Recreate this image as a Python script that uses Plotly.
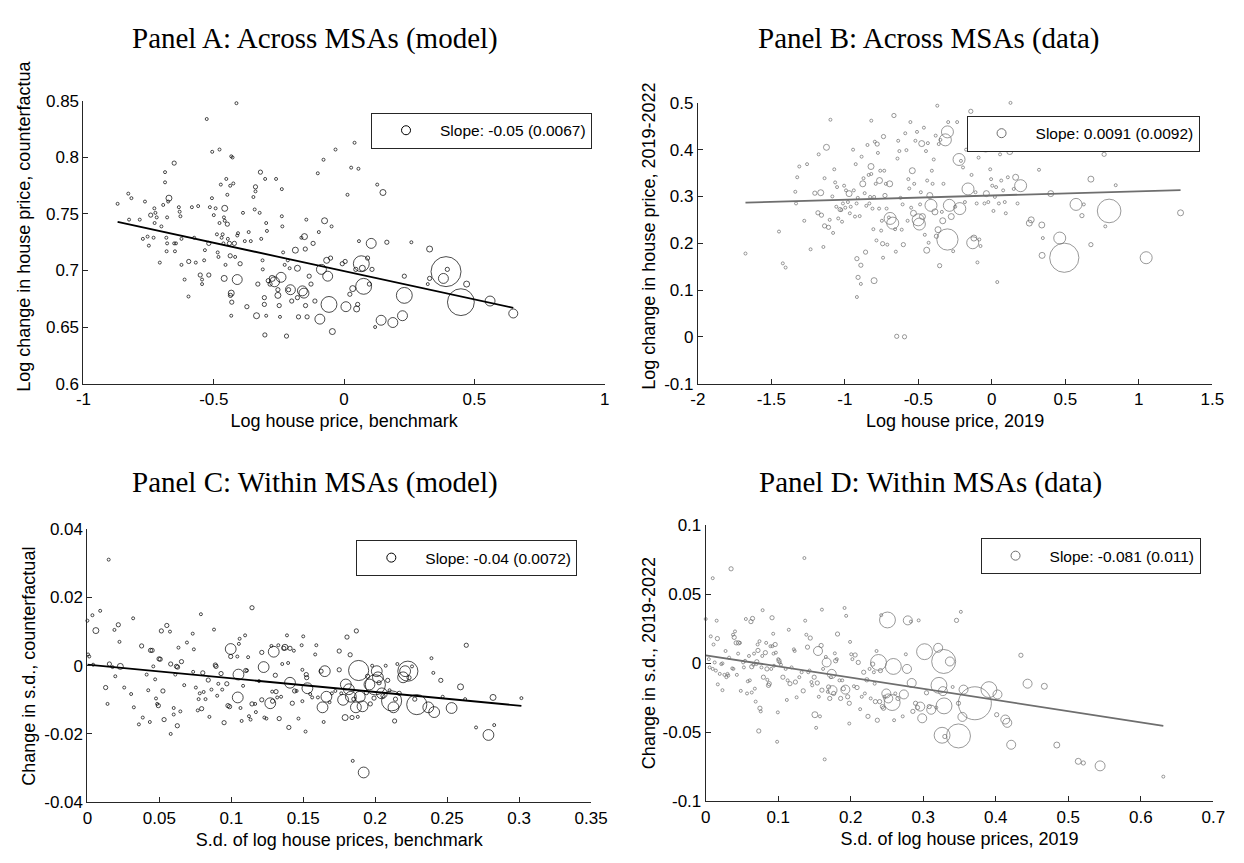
import numpy as np
import plotly.graph_objects as go

# ---------------- Panel A: across MSAs (model) ----------------
a_x = [-0.869, -0.828, -0.816, -0.825, -0.784, -0.764, -0.742, -0.728, -0.724, -0.719,
       -0.772, -0.754, -0.749, -0.731, -0.727, -0.701, -0.687, -0.687, -0.672, -0.675,
       -0.679, -0.694, -0.652, -0.707, -0.681, -0.682, -0.679, -0.652, -0.645, -0.649,
       -0.634, -0.631, -0.628, -0.624, -0.624, -0.612, -0.597, -0.596, -0.584, -0.575,
       -0.569, -0.560, -0.552, -0.545, -0.545, -0.537, -0.534, -0.527, -0.519, -0.519,
       -0.515, -0.507, -0.506, -0.500, -0.493, -0.488, -0.485, -0.482, -0.478, -0.478,
       -0.473, -0.470, -0.466, -0.463, -0.458, -0.461, -0.458, -0.455, -0.460, -0.452,
       -0.448, -0.448, -0.446, -0.440, -0.437, -0.433, -0.428, -0.425, -0.421, -0.418,
       -0.437, -0.433, -0.436, -0.431, -0.433, -0.413, -0.410, -0.407, -0.399, -0.388,
       -0.381, -0.410, -0.373, -0.366, -0.358, -0.348, -0.343, -0.340, -0.340, -0.336,
       -0.331, -0.324, -0.321, -0.318, -0.313, -0.312, -0.306, -0.306, -0.299, -0.304,
       -0.303, -0.299, -0.296, -0.291, -0.284, -0.276, -0.267, -0.261, -0.254, -0.254,
       -0.249, -0.246, -0.242, -0.239, -0.239, -0.237, -0.234, -0.228, -0.221, -0.216,
       -0.213, -0.209, -0.206, -0.201, -0.187, -0.179, -0.179, -0.175, -0.164, -0.160,
       -0.154, -0.152, -0.149, -0.148, -0.145, -0.142, -0.134, -0.127, -0.119, -0.112,
       -0.101, -0.097, -0.093, -0.087, -0.079, -0.075, -0.067, -0.063, -0.058, -0.052,
       -0.048, -0.045, -0.033, -0.007, 0.004, 0.007, 0.013, 0.022, 0.027, 0.033,
       0.040, 0.045, 0.048, 0.052, 0.055, 0.057, 0.066, 0.070, 0.075, 0.090,
       0.097, 0.104, 0.107, 0.119, 0.127, 0.149, 0.142, 0.164, 0.187, 0.224,
       0.231, 0.231, 0.258, 0.321, 0.328, 0.328, 0.391, 0.381, 0.396, 0.448,
       0.470, 0.560, 0.649]
a_y = [0.759, 0.768, 0.764, 0.745, 0.745, 0.761, 0.749, 0.755, 0.751, 0.747,
       0.728, 0.730, 0.722, 0.729, 0.742, 0.739, 0.787, 0.778, 0.764, 0.761,
       0.747, 0.758, 0.795, 0.707, 0.717, 0.729, 0.724, 0.724, 0.724, 0.717,
       0.756, 0.752, 0.748, 0.728, 0.705, 0.692, 0.677, 0.708, 0.756, 0.729,
       0.707, 0.757, 0.696, 0.692, 0.688, 0.709, 0.718, 0.834, 0.724, 0.696,
       0.756, 0.764, 0.805, 0.749, 0.755, 0.732, 0.716, 0.712, 0.807, 0.742,
       0.776, 0.729, 0.732, 0.724, 0.755, 0.747, 0.744, 0.705, 0.693, 0.781,
       0.767, 0.741, 0.728, 0.724, 0.775, 0.801, 0.800, 0.777, 0.724, 0.712,
       0.713, 0.680, 0.678, 0.672, 0.660, 0.848, 0.731, 0.733, 0.706, 0.751,
       0.726, 0.692, 0.668, 0.734, 0.726, 0.765, 0.754, 0.774, 0.770, 0.660,
       0.688, 0.751, 0.787, 0.728, 0.709, 0.701, 0.676, 0.670, 0.660, 0.643,
       0.781, 0.742, 0.735, 0.691, 0.688, 0.693, 0.690, 0.781, 0.683, 0.678,
       0.669, 0.659, 0.694, 0.748, 0.772, 0.739, 0.716, 0.705, 0.642, 0.709,
       0.683, 0.702, 0.683, 0.673, 0.718, 0.702, 0.676, 0.659, 0.729, 0.682,
       0.680, 0.730, 0.719, 0.669, 0.745, 0.659, 0.695, 0.688, 0.724, 0.673,
       0.786, 0.734, 0.657, 0.701, 0.798, 0.744, 0.709, 0.695, 0.670, 0.711,
       0.739, 0.646, 0.807, 0.706, 0.708, 0.668, 0.767, 0.679, 0.791, 0.684,
       0.813, 0.701, 0.666, 0.670, 0.790, 0.726, 0.706, 0.702, 0.686, 0.711,
       0.688, 0.724, 0.701, 0.650, 0.776, 0.769, 0.656, 0.725, 0.654, 0.660,
       0.678, 0.695, 0.725, 0.688, 0.719, 0.693, 0.699, 0.693, 0.701, 0.672,
       0.688, 0.673, 0.662]
a_w = [1, 1, 1, 1, 1, 1, 2, 1, 1, 1,
       1, 1, 1, 1, 1, 1, 1, 1, 4, 1,
       1, 1, 2, 1, 1, 1, 1, 1, 1, 1,
       1, 1, 1, 1, 1, 1, 1, 2, 1, 1,
       1, 1, 2, 1, 1, 1, 1, 1, 2, 2,
       1, 1, 1, 1, 1, 1, 1, 1, 1, 1,
       1, 1, 1, 1, 4, 1, 1, 1, 4, 1,
       1, 2, 1, 2, 1, 1, 1, 1, 2, 1,
       2, 4, 2, 2, 1, 1, 1, 1, 2, 1,
       1, 11, 2, 1, 1, 1, 1, 2, 1, 4,
       2, 1, 2, 1, 1, 1, 2, 2, 1, 2,
       1, 1, 1, 2, 2, 4, 11, 1, 2, 4,
       2, 1, 11, 1, 1, 1, 1, 1, 2, 1,
       2, 1, 11, 2, 4, 4, 2, 2, 1, 11,
       11, 4, 2, 2, 1, 2, 2, 2, 2, 2,
       1, 1, 11, 11, 1, 4, 4, 11, 28, 2,
       1, 4, 1, 2, 2, 11, 1, 2, 1, 4,
       1, 2, 4, 2, 1, 1, 28, 4, 28, 2,
       2, 11, 2, 1, 1, 4, 11, 2, 11, 11,
       28, 2, 1, 1, 4, 2, 100, 11, 2, 80,
       4, 11, 9]
a_slope, a_intercept = -0.05, 0.6995
a_label = "Slope: -0.05 (0.0067)"

# ---------------- Panel B: across MSAs (data) ----------------
b_x = [-1.676, -1.448, -1.422, -1.403, -1.337, -1.332, -1.324, -1.310, -1.276, -1.257,
       -1.233, -1.204, -1.183, -1.178, -1.164, -1.159, -1.146, -1.138, -1.138, -1.125,
       -1.111, -1.103, -1.098, -1.085, -1.080, -1.072, -1.066, -1.058, -1.053, -1.045,
       -1.032, -1.024, -1.019, -1.013, -1.005, -0.997, -0.992, -0.979, -0.971, -0.966,
       -0.960, -0.944, -0.939, -0.931, -0.926, -0.920, -0.918, -0.912, -0.910, -0.918,
       -0.899, -0.891, -0.891, -0.886, -0.878, -0.873, -0.865, -0.859, -0.854, -0.846,
       -0.838, -0.833, -0.828, -0.822, -0.820, -0.820, -0.812, -0.806, -0.801, -0.801,
       -0.796, -0.790, -0.785, -0.780, -0.775, -0.767, -0.764, -0.759, -0.753, -0.748,
       -0.743, -0.740, -0.737, -0.732, -0.727, -0.721, -0.716, -0.711, -0.700, -0.695,
       -0.692, -0.674, -0.666, -0.658, -0.653, -0.647, -0.642, -0.637, -0.629, -0.621,
       -0.613, -0.607, -0.602, -0.594, -0.589, -0.581, -0.573, -0.568, -0.562, -0.554,
       -0.549, -0.541, -0.533, -0.528, -0.520, -0.509, -0.501, -0.493, -0.488, -0.483,
       -0.477, -0.472, -0.462, -0.456, -0.448, -0.443, -0.440, -0.435, -0.430, -0.422,
       -0.414, -0.408, -0.403, -0.395, -0.387, -0.382, -0.377, -0.371, -0.366, -0.361,
       -0.355, -0.350, -0.340, -0.334, -0.329, -0.316, -0.302, -0.302, -0.289, -0.297,
       -0.276, -0.263, -0.249, -0.236, -0.223, -0.218, -0.210, -0.196, -0.183, -0.175,
       -0.162, -0.143, -0.138, -0.130, -0.122, -0.117, -0.111, -0.103, -0.098, -0.090,
       -0.085, -0.077, -0.069, -0.050, -0.042, -0.037, -0.024, -0.016, -0.011, -0.005,
       0.003, 0.011, 0.021, 0.029, 0.037, 0.048, 0.056, 0.064, 0.077, 0.088,
       0.095, 0.109, 0.122, 0.127, 0.149, 0.162, 0.175, 0.196, 0.255, 0.268,
       0.321, 0.340, 0.342, 0.347, 0.401, 0.462, 0.493, 0.573, 0.613, 0.626,
       0.674, 0.674, 0.764, 0.772, 0.798, 0.843, 1.050, 1.284]
b_y = [0.178, 0.225, 0.157, 0.148, 0.310, 0.285, 0.341, 0.364, 0.248, 0.369,
       0.187, 0.307, 0.265, 0.390, 0.308, 0.260, 0.192, 0.237, 0.339, 0.405,
       0.234, 0.250, 0.464, 0.300, 0.222, 0.358, 0.330, 0.278, 0.320, 0.253,
       0.272, 0.271, 0.246, 0.285, 0.323, 0.276, 0.313, 0.288, 0.306, 0.264,
       0.278, 0.400, 0.313, 0.257, 0.369, 0.285, 0.167, 0.297, 0.127, 0.085,
       0.258, 0.153, 0.113, 0.385, 0.327, 0.339, 0.307, 0.181, 0.280, 0.410,
       0.346, 0.285, 0.299, 0.364, 0.462, 0.348, 0.274, 0.230, 0.120, 0.299,
       0.417, 0.327, 0.206, 0.412, 0.393, 0.274, 0.334, 0.355, 0.227, 0.248,
       0.199, 0.169, 0.428, 0.355, 0.302, 0.327, 0.274, 0.197, 0.255, 0.327,
       0.253, 0.243, 0.473, 0.230, 0.182, 0.001, 0.381, 0.419, 0.397, 0.297,
       0.229, 0.283, 0.197, 0.000, 0.435, 0.399, 0.248, 0.337, 0.317, 0.459,
       0.276, 0.355, 0.264, 0.327, 0.419, 0.438, 0.250, 0.241, 0.283, 0.309,
       0.413, 0.257, 0.447, 0.218, 0.397, 0.185, 0.334, 0.414, 0.201, 0.302,
       0.281, 0.355, 0.327, 0.379, 0.267, 0.430, 0.215, 0.494, 0.229, 0.412,
       0.152, 0.421, 0.267, 0.248, 0.327, 0.421, 0.438, 0.208, 0.281, 0.459,
       0.257, 0.183, 0.278, 0.459, 0.379, 0.274, 0.376, 0.362, 0.288, 0.400,
       0.316, 0.482, 0.346, 0.201, 0.211, 0.442, 0.309, 0.285, 0.159, 0.383,
       0.208, 0.194, 0.420, 0.285, 0.408, 0.306, 0.288, 0.403, 0.358, 0.337,
       0.323, 0.269, 0.299, 0.320, 0.117, 0.285, 0.390, 0.334, 0.313, 0.288,
       0.264, 0.341, 0.396, 0.500, 0.316, 0.341, 0.285, 0.323, 0.243, 0.250,
       0.357, 0.239, 0.174, 0.211, 0.306, 0.211, 0.169, 0.283, 0.259, 0.283,
       0.337, 0.197, 0.390, 0.236, 0.269, 0.324, 0.169, 0.265]
b_w = [1, 1, 1, 1, 1, 1, 1, 1, 1, 1,
       1, 2, 2, 1, 4, 2, 1, 2, 1, 4,
       2, 1, 1, 1, 1, 1, 1, 1, 1, 1,
       2, 1, 1, 1, 1, 1, 1, 1, 4, 1,
       1, 1, 1, 1, 1, 1, 2, 1, 2, 1,
       1, 2, 1, 1, 4, 1, 1, 2, 1, 1,
       1, 1, 1, 4, 1, 1, 1, 1, 4, 1,
       1, 1, 1, 2, 1, 1, 4, 1, 1, 1,
       2, 1, 2, 1, 2, 1, 1, 1, 1, 4,
       16, 16, 2, 1, 1, 2, 1, 1, 1, 1,
       1, 1, 2, 2, 1, 1, 1, 1, 1, 1,
       1, 4, 4, 1, 1, 1, 16, 16, 1, 1,
       4, 4, 1, 1, 1, 4, 1, 1, 1, 4,
       16, 1, 1, 1, 4, 1, 2, 1, 4, 1,
       2, 1, 1, 4, 1, 16, 16, 50, 16, 1,
       4, 1, 1, 1, 16, 16, 1, 1, 1, 1,
       16, 2, 1, 16, 4, 1, 1, 1, 1, 1,
       1, 1, 16, 1, 16, 4, 1, 1, 1, 1,
       1, 1, 1, 1, 1, 1, 1, 1, 1, 1,
       1, 1, 4, 1, 1, 4, 1, 16, 4, 4,
       1, 4, 4, 1, 4, 16, 95, 16, 2, 1,
       4, 2, 2, 1, 62, 1, 16, 4]
b_slope, b_intercept = 0.0091, 0.302
b_label = "Slope: 0.0091 (0.0092)"

# ---------------- Panel C: within MSAs (model) ----------------
c_x = [0.0000, 0.0005, 0.0013, 0.0035, 0.0040, 0.0059, 0.0089, 0.0127, 0.0140, 0.0148,
       0.0153, 0.0175, 0.0188, 0.0194, 0.0215, 0.0223, 0.0229, 0.0256, 0.0304, 0.0318,
       0.0323, 0.0377, 0.0385, 0.0358, 0.0412, 0.0423, 0.0434, 0.0439, 0.0450, 0.0458,
       0.0471, 0.0477, 0.0485, 0.0493, 0.0498, 0.0506, 0.0514, 0.0525, 0.0533, 0.0552,
       0.0574, 0.0579, 0.0579, 0.0600, 0.0600, 0.0611, 0.0619, 0.0625, 0.0627, 0.0633,
       0.0646, 0.0654, 0.0673, 0.0692, 0.0732, 0.0735, 0.0740, 0.0754, 0.0767, 0.0773,
       0.0781, 0.0789, 0.0794, 0.0802, 0.0808, 0.0821, 0.0840, 0.0848, 0.0862, 0.0880,
       0.0889, 0.0894, 0.0902, 0.0910, 0.0929, 0.0937, 0.0950, 0.0969, 0.0977, 0.0988,
       0.0996, 0.0996, 0.1042, 0.1045, 0.1050, 0.1053, 0.1058, 0.1064, 0.1072, 0.1082,
       0.1096, 0.1101, 0.1109, 0.1117, 0.1123, 0.1134, 0.1144, 0.1144, 0.1166, 0.1171,
       0.1193, 0.1212, 0.1212, 0.1225, 0.1230, 0.1244, 0.1271, 0.1279, 0.1284, 0.1287,
       0.1295, 0.1306, 0.1311, 0.1319, 0.1327, 0.1333, 0.1346, 0.1354, 0.1365, 0.1373,
       0.1387, 0.1395, 0.1400, 0.1408, 0.1408, 0.1424, 0.1435, 0.1440, 0.1454, 0.1467,
       0.1489, 0.1494, 0.1494, 0.1500, 0.1516, 0.1521, 0.1524, 0.1529, 0.1548, 0.1562,
       0.1583, 0.1591, 0.1602, 0.1624, 0.1634, 0.1642, 0.1650, 0.1661, 0.1683, 0.1699,
       0.1723, 0.1750, 0.1750, 0.1764, 0.1777, 0.1791, 0.1796, 0.1804, 0.1817, 0.1826,
       0.1831, 0.1839, 0.1844, 0.1852, 0.1866, 0.1869, 0.1879, 0.1885, 0.1893, 0.1912,
       0.1920, 0.1939, 0.1947, 0.1960, 0.1966, 0.1979, 0.1992, 0.2001, 0.2011, 0.2019,
       0.2027, 0.2046, 0.2054, 0.2073, 0.2087, 0.2100, 0.2114, 0.2127, 0.2135, 0.2141,
       0.2154, 0.2167, 0.2194, 0.2208, 0.2227, 0.2235, 0.2256, 0.2275, 0.2289, 0.2369,
       0.2391, 0.2404, 0.2410, 0.2456, 0.2469, 0.2531, 0.2593, 0.2625, 0.2633, 0.2701,
       0.2787, 0.2819, 0.2827, 0.3016]
c_y = [0.0132, 0.0033, 0.0027, 0.0148, 0.0003, 0.0103, 0.0161, -0.0064, -0.0112, 0.0311,
       0.0005, -0.0004, 0.0105, -0.0031, 0.0120, 0.0070, -0.0002, -0.0064, -0.0083, 0.0139,
       -0.0122, 0.0058, -0.0152, -0.0172, -0.0026, -0.0072, -0.0165, 0.0045, 0.0045, -0.0002,
       -0.0040, -0.0096, -0.0112, -0.0117, 0.0020, 0.0019, 0.0102, -0.0074, -0.0158, 0.0118,
       0.0100, 0.0005, -0.0200, -0.0124, -0.0143, -0.0026, -0.0002, -0.0176, -0.0004, 0.0053,
       -0.0134, 0.0012, -0.0057, 0.0068, 0.0094, -0.0018, 0.0048, -0.0064, -0.0131, -0.0098,
       -0.0081, 0.0151, -0.0126, -0.0021, -0.0077, -0.0098, -0.0042, -0.0150, -0.0070, 0.0106,
       0.0002, -0.0002, -0.0088, -0.0053, -0.0023, -0.0070, -0.0167, -0.0053, -0.0117, -0.0120,
       0.0049, 0.0027, 0.0027, -0.0093, -0.0026, 0.0064, 0.0079, -0.0124, -0.0162, -0.0059,
       0.0089, -0.0014, -0.0014, 0.0025, -0.0148, -0.0158, 0.0170, -0.0112, -0.0112, -0.0136,
       -0.0045, 0.0039, -0.0100, -0.0004, -0.0152, -0.0155, -0.0110, 0.0058, -0.0076, -0.0104,
       0.0041, -0.0028, -0.0076, -0.0093, 0.0060, -0.0155, -0.0091, 0.0005, 0.0051, 0.0054,
       0.0089, 0.0008, -0.0181, 0.0051, -0.0050, -0.0110, 0.0044, -0.0074, -0.0074, -0.0155,
       0.0060, -0.0012, -0.0104, 0.0086, -0.0193, -0.0026, -0.0035, -0.0066, -0.0083, -0.0093,
       0.0033, 0.0060, -0.0093, -0.0016, -0.0122, -0.0165, -0.0016, -0.0091, -0.0107, -0.0081,
       -0.0074, -0.0012, 0.0043, -0.0081, -0.0100, -0.0152, -0.0055, 0.0084, -0.0069, 0.0032,
       -0.0091, -0.0152, -0.0279, -0.0098, -0.0122, 0.0102, -0.0150, -0.0014, -0.0091, -0.0119,
       -0.0313, -0.0079, -0.0031, -0.0055, -0.0112, 0.0000, -0.0095, -0.0056, -0.0016, -0.0034,
       -0.0050, -0.0081, -0.0088, 0.0000, -0.0043, -0.0072, -0.0103, -0.0122, -0.0162, -0.0098,
       0.0005, -0.0081, -0.0034, -0.0016, -0.0016, -0.0035, -0.0002, -0.0098, -0.0114, -0.0122,
       0.0022, -0.0021, -0.0136, -0.0043, -0.0091, -0.0124, -0.0062, -0.0098, 0.0060, -0.0181,
       -0.0203, -0.0093, -0.0174, -0.0095]
c_w = [1, 1, 1, 1, 1, 4, 1, 2, 1, 1,
       2, 1, 1, 1, 2, 1, 4, 1, 1, 1,
       1, 2, 1, 1, 1, 1, 1, 2, 2, 1,
       1, 1, 1, 2, 2, 2, 2, 2, 2, 2,
       1, 2, 1, 1, 1, 1, 2, 2, 2, 1,
       1, 2, 1, 1, 1, 1, 1, 1, 1, 1,
       1, 1, 2, 2, 1, 1, 2, 1, 1, 1,
       2, 2, 1, 1, 2, 1, 2, 2, 2, 2,
       13, 2, 1, 13, 13, 1, 1, 1, 1, 1,
       1, 2, 1, 1, 1, 1, 2, 2, 1, 1,
       1, 2, 2, 13, 1, 1, 13, 1, 1, 2,
       13, 2, 2, 1, 1, 2, 1, 1, 2, 4,
       1, 1, 2, 2, 13, 2, 1, 2, 1, 1,
       1, 1, 1, 1, 1, 2, 2, 13, 1, 1,
       1, 1, 1, 2, 13, 1, 13, 13, 1, 1,
       1, 2, 2, 1, 13, 4, 13, 2, 13, 2,
       13, 2, 1, 2, 13, 2, 1, 45, 13, 13,
       13, 2, 2, 13, 2, 1, 2, 45, 13, 13,
       2, 13, 2, 1, 2, 1, 45, 13, 2, 2,
       1, 2, 13, 13, 45, 2, 1, 2, 45, 13,
       1, 1, 13, 2, 1, 13, 4, 1, 2, 1,
       13, 4, 1, 1]
c_slope, c_intercept = -0.04, 0.0003
c_label = "Slope: -0.04 (0.0072)"

# ---------------- Panel D: within MSAs (data) ----------------
d_x = [0.0000, 0.0043, 0.0054, 0.0070, 0.0097, 0.0097, 0.0108, 0.0124, 0.0140, 0.0151,
       0.0161, 0.0167, 0.0194, 0.0215, 0.0231, 0.0231, 0.0258, 0.0274, 0.0285, 0.0301,
       0.0312, 0.0323, 0.0350, 0.0366, 0.0377, 0.0382, 0.0393, 0.0404, 0.0420, 0.0430,
       0.0447, 0.0452, 0.0473, 0.0484, 0.0516, 0.0527, 0.0543, 0.0554, 0.0570, 0.0581,
       0.0597, 0.0608, 0.0624, 0.0635, 0.0635, 0.0646, 0.0656, 0.0667, 0.0678, 0.0689,
       0.0699, 0.0705, 0.0716, 0.0721, 0.0732, 0.0742, 0.0748, 0.0759, 0.0769, 0.0780,
       0.0785, 0.0796, 0.0823, 0.0834, 0.0845, 0.0850, 0.0866, 0.0877, 0.0893, 0.0904,
       0.0915, 0.0920, 0.0931, 0.0936, 0.0942, 0.0958, 0.0968, 0.0985, 0.0995, 0.1001,
       0.1011, 0.1022, 0.1038, 0.1065, 0.1103, 0.1119, 0.1130, 0.1146, 0.1162, 0.1184,
       0.1216, 0.1227, 0.1237, 0.1254, 0.1291, 0.1323, 0.1345, 0.1361, 0.1372, 0.1388,
       0.1404, 0.1415, 0.1431, 0.1442, 0.1458, 0.1469, 0.1496, 0.1506, 0.1523, 0.1539,
       0.1549, 0.1560, 0.1576, 0.1592, 0.1603, 0.1603, 0.1619, 0.1641, 0.1657, 0.1668,
       0.1684, 0.1695, 0.1711, 0.1727, 0.1738, 0.1749, 0.1765, 0.1781, 0.1792, 0.1808,
       0.1818, 0.1845, 0.1861, 0.1883, 0.1899, 0.1915, 0.1926, 0.1937, 0.1958, 0.1980,
       0.1980, 0.1991, 0.2007, 0.2023, 0.2044, 0.2061, 0.2087, 0.2104, 0.2130, 0.2152,
       0.2179, 0.2195, 0.2222, 0.2238, 0.2260, 0.2276, 0.2303, 0.2319, 0.2330, 0.2340,
       0.2356, 0.2367, 0.2383, 0.2399, 0.2410, 0.2421, 0.2437, 0.2453, 0.2464, 0.2491,
       0.2507, 0.2518, 0.2572, 0.2588, 0.2598, 0.2615, 0.2652, 0.2717, 0.2733, 0.2760,
       0.2776, 0.2787, 0.2830, 0.2841, 0.2857, 0.2894, 0.2921, 0.2937, 0.2959, 0.2986,
       0.3018, 0.3045, 0.3083, 0.3110, 0.3180, 0.3206, 0.3217, 0.3260, 0.3271, 0.3282,
       0.3287, 0.3298, 0.3368, 0.3406, 0.3459, 0.3486, 0.3486, 0.3519, 0.3540, 0.3556,
       0.3712, 0.3906, 0.4013, 0.4024, 0.4121, 0.4132, 0.4159, 0.4213, 0.4347, 0.4439,
       0.4670, 0.4842, 0.5138, 0.5208, 0.5439, 0.6311]
d_y = [0.0321, 0.0030, -0.0030, 0.0195, 0.0617, -0.0041, 0.0136, 0.0006, -0.0053, 0.0309,
       0.0179, -0.0153, -0.0077, -0.0006, -0.0001, -0.0195, -0.0084, 0.0089, -0.0101, -0.0077,
       -0.0089, 0.0041, 0.0685, -0.0037, 0.0207, -0.0041, 0.0188, 0.0231, 0.0148, -0.0084,
       0.0070, 0.0148, 0.0148, -0.0200, 0.0006, -0.0030, 0.0018, 0.0321, -0.0219, -0.0131,
       0.0053, -0.0124, 0.0302, -0.0212, -0.0025, 0.0325, -0.0011, 0.0070, -0.0184, -0.0278,
       -0.0006, 0.0011, 0.0136, 0.0093, -0.0491, 0.0160, -0.0326, -0.0349, -0.0030, 0.0053,
       0.0385, -0.0101, 0.0077, 0.0148, -0.0041, -0.0120, -0.0160, -0.0148, 0.0124, -0.0041,
       0.0330, 0.0124, 0.0214, 0.0070, -0.0018, 0.0136, 0.0077, -0.0569, -0.0356, 0.0030,
       0.0018, 0.0006, -0.0011, -0.0101, -0.0041, -0.0266, -0.0124, 0.0243, -0.0148, -0.0030,
       0.0101, 0.0089, -0.0136, -0.0247, -0.0101, -0.0065, -0.0200, 0.0763, 0.0309, 0.0207,
       0.0117, -0.0065, -0.0053, 0.0183, -0.0136, -0.0160, -0.0101, -0.0373, -0.0468, -0.0143,
       0.0089, -0.0243, -0.0385, 0.0129, 0.0389, -0.0195, -0.0041, -0.0697, 0.0046, 0.0006,
       -0.0207, -0.0172, -0.0255, -0.0101, -0.0077, -0.0195, -0.0219, 0.0072, 0.0018, 0.0030,
       0.0212, -0.0124, -0.0255, -0.0124, -0.0184, 0.0401, -0.0191, 0.0344, -0.0243, -0.0290,
       -0.0437, 0.0155, 0.0065, 0.0030, -0.0167, 0.0060, -0.0176, 0.0006, -0.0333, -0.0243,
       -0.0065, -0.0219, -0.0120, -0.0385, -0.0041, -0.0255, -0.0006, -0.0065, -0.0148, -0.0278,
       0.0089, -0.0413, 0.0006, -0.0278, -0.0053, 0.0349, -0.0314, -0.0326, -0.0243, -0.0219,
       0.0314, -0.0255, -0.0285, -0.0023, -0.0413, -0.0219, -0.0255, -0.0385, -0.0226, 0.0065,
       -0.0041, 0.0311, 0.0302, -0.0143, -0.0349, -0.0290, -0.0321, 0.0311, -0.0314, -0.0399,
       0.0084, -0.0214, -0.0314, -0.0337, -0.0321, 0.0112, -0.0160, -0.0522, -0.0202, 0.0013,
       -0.0309, -0.0531, 0.0013, -0.0172, 0.0311, -0.0527, -0.0290, 0.0373, -0.0389, -0.0191,
       -0.0290, -0.0191, -0.0373, -0.0226, 0.0662, -0.0408, -0.0432, -0.0591, 0.0058, -0.0148,
       -0.0167, -0.0593, -0.0711, -0.0723, -0.0744, -0.0822]
d_w = [1, 1, 1, 1, 1, 1, 1, 1, 1, 1,
       2, 1, 1, 1, 1, 1, 1, 1, 1, 1,
       1, 1, 2, 1, 1, 1, 2, 1, 2, 1,
       1, 2, 1, 1, 1, 1, 1, 1, 1, 1,
       1, 1, 2, 1, 2, 2, 1, 1, 1, 1,
       1, 2, 1, 2, 2, 1, 2, 1, 1, 1,
       1, 2, 2, 1, 2, 1, 2, 2, 1, 1,
       2, 1, 1, 1, 1, 2, 1, 1, 1, 1,
       2, 1, 1, 2, 1, 1, 1, 1, 2, 1,
       1, 1, 2, 1, 1, 1, 2, 1, 1, 1,
       2, 1, 1, 2, 1, 1, 2, 4, 1, 2,
       9, 1, 1, 2, 1, 2, 1, 1, 1, 9,
       1, 2, 2, 1, 9, 9, 2, 1, 2, 1,
       2, 1, 2, 1, 2, 1, 9, 1, 2, 2,
       1, 1, 1, 1, 1, 2, 2, 2, 1, 1,
       2, 1, 2, 2, 1, 1, 2, 1, 1, 2,
       1, 2, 28, 2, 2, 1, 2, 2, 1, 9,
       28, 9, 28, 28, 1, 1, 2, 1, 9, 1,
       9, 9, 1, 9, 2, 2, 2, 1, 9, 9,
       28, 2, 2, 9, 1, 9, 28, 28, 9, 64,
       28, 2, 9, 1, 2, 64, 2, 1, 9, 9,
       121, 28, 2, 9, 1, 9, 9, 9, 2, 9,
       4, 4, 4, 2, 11, 1]
d_slope, d_intercept = -0.081, 0.0058
d_label = "Slope: -0.081 (0.011)"

# ---------------- tick labels ----------------
a_xticks = [-1, -0.5, 0, 0.5, 1]
a_xtext = ["-1", "-0.5", "0", "0.5", "1"]
a_yticks = [0.6, 0.65, 0.7, 0.75, 0.8, 0.85]
a_ytext = ["0.6", "0.65", "0.7", "0.75", "0.8", "0.85"]
b_xticks = [-2, -1.5, -1, -0.5, 0, 0.5, 1, 1.5]
b_xtext = ["-2", "-1.5", "-1", "-0.5", "0", "0.5", "1", "1.5"]
b_yticks = [-0.1, 0, 0.1, 0.2, 0.3, 0.4, 0.5]
b_ytext = ["-0.1", "0", "0.1", "0.2", "0.3", "0.4", "0.5"]
c_xticks = [0, 0.05, 0.1, 0.15, 0.2, 0.25, 0.3, 0.35]
c_xtext = ["0", "0.05", "0.1", "0.15", "0.2", "0.25", "0.3", "0.35"]
c_yticks = [-0.04, -0.02, 0, 0.02, 0.04]
c_ytext = ["-0.04", "-0.02", "0", "0.02", "0.04"]
d_xticks = [0, 0.1, 0.2, 0.3, 0.4, 0.5, 0.6, 0.7]
d_xtext = ["0", "0.1", "0.2", "0.3", "0.4", "0.5", "0.6", "0.7"]
d_yticks = [-0.1, -0.05, 0, 0.05, 0.1]
d_ytext = ["-0.1", "-0.05", "0", "0.05", "0.1"]

W, H = 1244, 863
BLACK = "#000000"
GRAY = "#6e6e6e"
AXIS = "#262626"
SANS = "Liberation Sans, Arial, sans-serif"
SERIF = "Liberation Serif, Times New Roman, serif"

def px_x(p):
    return p / W

def px_y(p):
    return 1 - p / H

panels = [
    dict(x=a_x, y=a_y, w=a_w, slope=a_slope, icpt=a_intercept, label=a_label, color=BLACK,
         xr=[-1, 1], yr=[0.6, 0.85], xt=(a_xticks, a_xtext), yt=(a_yticks, a_ytext),
         dom_x=(77, 609), dom_y=(94, 383),
         title="Panel A: Across MSAs (model)", title_pos=(313, 30),
         xlab="Log house price, benchmark",
         ylab="Log change in house price, counterfactua", ylab_pos=(16, 222),
         leg=(596, 106), legend="legend"),
    dict(x=b_x, y=b_y, w=b_w, slope=b_slope, icpt=b_intercept, label=b_label, color=GRAY,
         xr=[-2, 1.5], yr=[-0.1, 0.5], xt=(b_xticks, b_xtext), yt=(b_yticks, b_ytext),
         dom_x=(704, 1229), dom_y=(96, 383),
         title="Panel B: Across MSAs (data)", title_pos=(940, 30),
         xlab="Log house price, 2019",
         ylab="Log change in house price, 2019-2022", ylab_pos=(654, 232),
         leg=(1216, 109), legend="legend2"),
    dict(x=c_x, y=c_y, w=c_w, slope=c_slope, icpt=c_intercept, label=c_label, color=BLACK,
         xr=[0, 0.35], yr=[-0.04, 0.04], xt=(c_xticks, c_xtext), yt=(c_yticks, c_ytext),
         dom_x=(81, 595), dom_y=(532, 811),
         title="Panel C: Within MSAs (model)", title_pos=(313, 484),
         xlab="S.d. of log house prices, benchmark",
         ylab="Change in s.d., counterfactual", ylab_pos=(22, 672),
         leg=(581, 543), legend="legend3"),
    dict(x=d_x, y=d_y, w=d_w, slope=d_slope, icpt=d_intercept, label=d_label, color=GRAY,
         xr=[0, 0.7], yr=[-0.1, 0.1], xt=(d_xticks, d_xtext), yt=(d_yticks, d_ytext),
         dom_x=(712, 1230), dom_y=(528, 810),
         title="Panel D: Within MSAs (data)", title_pos=(941, 484),
         xlab="S.d. of log house prices, 2019",
         ylab="Change in s.d., 2019-2022", ylab_pos=(654, 669),
         leg=(1217, 541), legend="legend4"),
]

fig = go.Figure()
layout = dict(width=W, height=H, autosize=False, margin=dict(l=0, r=0, t=0, b=0),
              paper_bgcolor="white", plot_bgcolor="white", showlegend=True,
              font=dict(family=SANS, size=17, color=BLACK))
annotations = []

for i, p in enumerate(panels, start=1):
    xa = "x" if i == 1 else f"x{i}"
    ya = "y" if i == 1 else f"y{i}"
    xkey = "xaxis" if i == 1 else f"xaxis{i}"
    ykey = "yaxis" if i == 1 else f"yaxis{i}"

    # bubble diameter grows with the square root of the MSA weight
    sizes = 3.0 * np.sqrt(np.asarray(p["w"], dtype=float))
    fig.add_trace(go.Scatter(
        x=p["x"], y=p["y"], mode="markers", xaxis=xa, yaxis=ya, showlegend=False,
        cliponaxis=False,
        marker=dict(symbol="circle-open", size=sizes, color=p["color"],
                    line=dict(width=1, color=p["color"])),
        hoverinfo="skip"))

    # fitted line over the range of the data
    xs = np.array([min(p["x"]), max(p["x"])])
    ys = p["icpt"] + p["slope"] * xs
    fig.add_trace(go.Scatter(
        x=xs, y=ys, mode="lines", xaxis=xa, yaxis=ya, showlegend=False,
        line=dict(color=p["color"], width=1.8), hoverinfo="skip"))

    # legend entry showing the marker and the slope estimate
    fig.add_trace(go.Scatter(
        x=[None], y=[None], mode="markers", xaxis=xa, yaxis=ya, name=p["label"],
        legend=p["legend"], showlegend=True,
        marker=dict(symbol="circle-open", size=9, color=p["color"],
                    line=dict(width=1, color=p["color"]))))

    layout[p["legend"]] = dict(
        x=px_x(p["leg"][0]), y=px_y(p["leg"][1]), xanchor="right", yanchor="top",
        bgcolor="white", bordercolor=AXIS, borderwidth=1,
        font=dict(family=SANS, size=15.5, color=BLACK), itemsizing="trace",
        itemwidth=58, tracegroupgap=0)

    axis_common = dict(showline=True, linecolor=AXIS, linewidth=1, ticks="inside",
                       ticklen=5, tickwidth=1, tickcolor=AXIS, showgrid=False,
                       zeroline=False, mirror=False,
                       tickfont=dict(family=SANS, size=17, color=BLACK))
    layout[xkey] = dict(axis_common, domain=[px_x(p["dom_x"][0]), px_x(p["dom_x"][1])],
                        range=p["xr"], tickmode="array", tickvals=p["xt"][0],
                        ticktext=p["xt"][1], anchor=ya,
                        title=dict(text=p["xlab"], font=dict(family=SANS, size=18),
                                   standoff=6))
    layout[ykey] = dict(axis_common, domain=[px_y(p["dom_y"][1]), px_y(p["dom_y"][0])],
                        range=p["yr"], tickmode="array", tickvals=p["yt"][0],
                        ticktext=p["yt"][1], anchor=xa)

    annotations.append(dict(text=p["title"], x=px_x(p["title_pos"][0]),
                            y=px_y(p["title_pos"][1]), xref="paper", yref="paper",
                            showarrow=False, xanchor="center", yanchor="middle",
                            font=dict(family=SERIF, size=29, color=BLACK)))
    annotations.append(dict(text=p["ylab"], x=px_x(p["ylab_pos"][0]),
                            y=px_y(p["ylab_pos"][1]), xref="paper", yref="paper",
                            showarrow=False, textangle=-90, xanchor="center",
                            yanchor="middle", font=dict(family=SANS, size=18, color=BLACK)))

layout["annotations"] = annotations
fig.update_layout(**layout)
fig.write_html("out.html")
